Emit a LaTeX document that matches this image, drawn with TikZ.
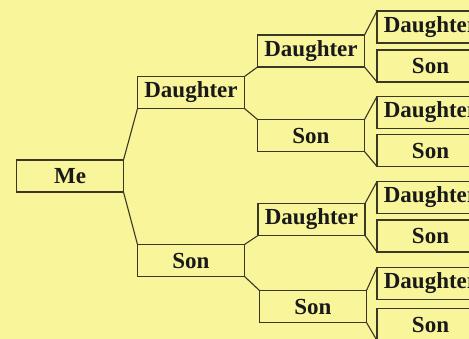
\documentclass[tikz,border=0pt]{standalone}
\usepackage{fontspec}
\setmainfont{Liberation Serif}
\definecolor{bgcol}{HTML}{F8F59A}
\definecolor{linecol}{HTML}{3A3822}
\tikzset{
  person/.style={draw=linecol, line width=1.1pt, fill=bgcol, rectangle, minimum width=107pt, minimum height=32pt, inner sep=0pt, outer sep=0pt, font=\fontsize{23}{23}\selectfont\bfseries, text=black!90},
  link/.style={draw=linecol, line width=1.1pt}
}
\begin{document}
\begin{tikzpicture}[x=1pt,y=-1pt]
\useasboundingbox (0,0) rectangle (469,339);
\clip (0,0) rectangle (469,339);
\fill[bgcol] (0,0) rectangle (469,339);
% level 0
\node[person] (me) at (70,176) {Me};
% level 1
\node[person] (d) at (191,92.5) {Daughter};
\node[person] (s) at (191,260.5) {Son};
% level 2
\node[person] (dd) at (311,51) {Daughter};
\node[person] (ds) at (311,135.5) {Son};
\node[person] (sd) at (311.5,219.5) {Daughter};
\node[person] (ss) at (313,306.5) {Son};
% level 3
\node[person] (ddd) at (430.5,27) {Daughter};
\node[person] (dds) at (430.5,66) {Son};
\node[person] (dsd) at (430.5,112.5) {Daughter};
\node[person] (dss) at (430.5,150.5) {Son};
\node[person] (sdd) at (430.5,197.5) {Daughter};
\node[person] (sds) at (430.5,236) {Son};
\node[person] (ssd) at (430.5,283.5) {Daughter};
\node[person] (sss) at (430.5,324.5) {Son};
% connectors
\draw[link] (me.north east) -- (d.south west);
\draw[link] (me.south east) -- (s.north west);
\draw[link] (d.north east) -- (dd.south west);
\draw[link] (d.south east) -- (ds.north west);
\draw[link] (s.north east) -- (sd.south west);
\draw[link] (s.south east) -- (ss.north west);
\draw[link] (dd.north east) -- (ddd.north west);
\draw[link] (dd.south east) -- (dds.south west);
\draw[link] (ds.north east) -- (dsd.north west);
\draw[link] (ds.south east) -- (dss.south west);
\draw[link] (sd.north east) -- (sdd.north west);
\draw[link] (sd.south east) -- (sds.south west);
\draw[link] (ss.north east) -- (ssd.north west);
\draw[link] (ss.south east) -- (sss.south west);
\end{tikzpicture}
\end{document}
